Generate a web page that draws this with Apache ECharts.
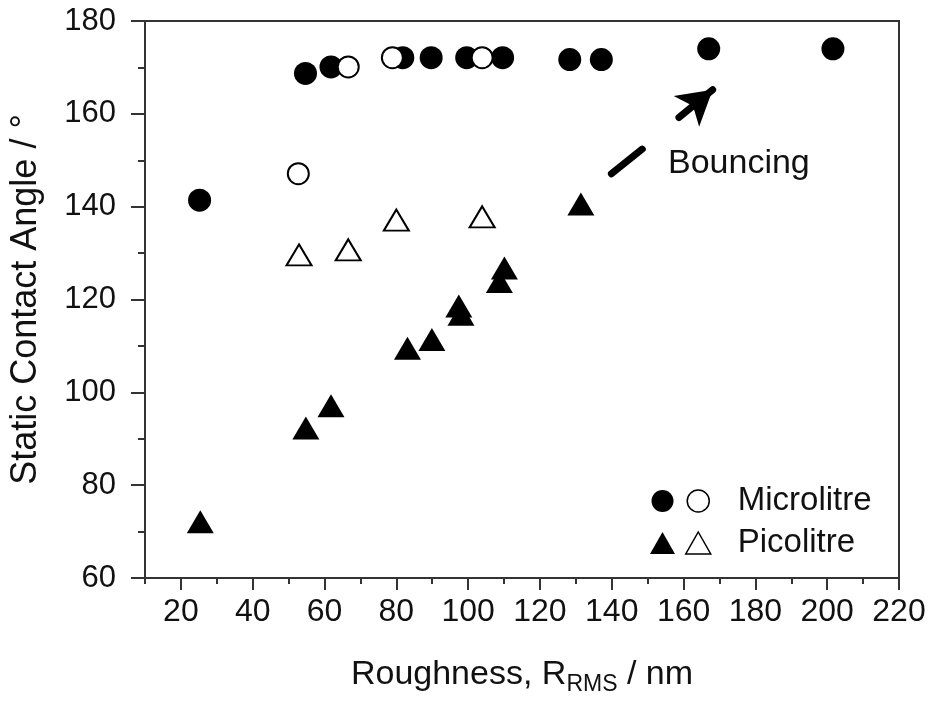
<!DOCTYPE html>
<html>
<head>
<meta charset="utf-8">
<script src="https://cdn.jsdelivr.net/npm/echarts@6/dist/echarts.min.js"></script>
<style>html,body{margin:0;padding:0;background:#fff;}#c{width:928px;height:701px;}</style>
</head>
<body>
<div id="c"></div>
<script>
// ---- data ----
const microFilledX = [25.2, 54.7, 61.8, 81.8, 89.7, 99.6, 109.6, 128.3, 137.1, 167.0, 201.6];
const microFilledY = [141.4, 168.7, 170.1, 172.1, 172.1, 172.1, 172.1, 171.7, 171.7, 174.0, 174.0];
const microOpenX = [52.7, 66.6, 78.9, 103.9];
const microOpenY = [147.1, 170.1, 172.1, 172.1];
const picoFilledX = [25.4, 54.8, 61.8, 83.1, 89.9, 97.4, 98.0, 108.7, 110.1, 131.4];
const picoFilledY = [72.1, 92.3, 97.1, 109.5, 111.4, 118.6, 116.8, 123.9, 126.8, 140.6];
const picoOpenX = [52.9, 66.6, 80.0, 103.9];
const picoOpenY = [129.6, 130.7, 137.1, 137.8];
const xMajorTicks = [20, 40, 60, 80, 100, 120, 140, 160, 180, 200, 220];
const xMinorTicks = [10, 30, 50, 70, 90, 110, 130, 150, 170, 190, 210];
// annotation (dash + arrow) in data coordinates
const dashCoords = [[139.9, 147.1], [148.5, 152.4]];
const arrowCoords = [[158.7, 159.2], [168.1, 165.2]];

const zip = (xs, ys) => xs.map((x, i) => [x, ys[i]]);
const FONT = 'Liberation Sans, Arial, sans-serif';

const chart = echarts.init(document.getElementById('c'), null, {renderer: 'canvas'});
const option = {
  animation: false,
  backgroundColor: '#fff',
  grid: {left: 145, right: 29, top: 21, bottom: 123, containLabel: false, outerBoundsMode: 'none',
    show: true, borderColor: '#333', borderWidth: 2, backgroundColor: 'transparent'},
  xAxis: [{
    type: 'value', min: 10, max: 220,
    axisLine: {show: true, lineStyle: {color: '#333', width: 2}},
    axisTick: {show: true, customValues: xMajorTicks, length: 12, lineStyle: {color: '#333', width: 2}},
    axisLabel: {customValues: xMajorTicks, color: '#111', fontFamily: FONT, fontSize: 32, margin: 18},
    splitLine: {show: false},
    name: '{a|Roughness, R}{b|RMS}{a| / nm}',
    nameLocation: 'middle', nameGap: 80,
    nameTextStyle: {
      color: '#111', fontFamily: FONT,
      rich: {
        a: {fontFamily: FONT, fontSize: 34, color: '#111', lineHeight: 38, verticalAlign: 'top'},
        b: {fontFamily: FONT, fontSize: 23, color: '#111', lineHeight: 22, padding: [27, 0, 0, 0], verticalAlign: 'bottom'}
      }
    }
  }, {
    type: 'value', min: 10, max: 220, gridIndex: 0, position: 'bottom',
    axisLine: {show: false},
    axisTick: {show: true, customValues: xMinorTicks, length: 6, lineStyle: {color: '#333', width: 2}},
    axisLabel: {show: false},
    splitLine: {show: false}
  }],
  yAxis: {
    type: 'value', min: 60, max: 180, interval: 20,
    axisLine: {show: true, lineStyle: {color: '#333', width: 2}},
    axisTick: {show: true, length: 14, lineStyle: {color: '#333', width: 2}},
    minorTick: {show: true, splitNumber: 2, length: 7, lineStyle: {color: '#333', width: 2}},
    axisLabel: {color: '#111', fontFamily: FONT, fontSize: 31, margin: 29},
    splitLine: {show: false},
    minorSplitLine: {show: false},
    name: 'Static Contact Angle / °',
    nameLocation: 'middle', nameRotate: 90, nameGap: 101,
    nameTextStyle: {color: '#111', fontFamily: FONT, fontSize: 36}
  },
  legend: [{
    orient: 'vertical', left: 645, top: 485, itemGap: 20,
    itemWidth: 25, itemHeight: 22,
    formatter: () => '',
    textStyle: {fontSize: 33, lineHeight: 22, fontFamily: FONT},
    selectedMode: false,
    data: [
      {name: 'Microlitre', icon: 'circle', itemStyle: {color: '#000', borderWidth: 0}},
      {name: 'Picolitre', icon: 'triangle', itemStyle: {color: '#000', borderWidth: 0}}
    ]
  }, {
    orient: 'vertical', left: 680, top: 479, itemGap: 8,
    itemWidth: 25, itemHeight: 22,
    formatter: (n) => n.trim(),
    textStyle: {fontSize: 33, lineHeight: 34, fontFamily: FONT, color: '#111', padding: [0, 0, 0, 22]},
    selectedMode: false,
    data: [
      {name: 'Microlitre ', icon: 'circle', itemStyle: {color: '#fff', borderColor: '#000', borderWidth: 1.5}},
      {name: 'Picolitre ', icon: 'triangle', itemStyle: {color: '#fff', borderColor: '#000', borderWidth: 1.5}}
    ]
  }],
  series: [
    {
      name: 'Microlitre', type: 'scatter', symbol: 'circle', symbolSize: 23,
      itemStyle: {color: '#000', opacity: 1},
      data: zip(microFilledX, microFilledY), z: 2
    },
    {
      name: 'Picolitre', type: 'scatter', symbol: 'triangle', symbolSize: [27, 23],
      itemStyle: {color: '#000', opacity: 1},
      data: zip(picoFilledX, picoFilledY), z: 2,
      markLine: {
        silent: true, animation: false,
        label: {show: false},
        data: [
          [{coord: dashCoords[0], symbol: 'none'}, {coord: dashCoords[1], symbol: 'none'}],
          [{coord: arrowCoords[0], symbol: 'none'}, {coord: arrowCoords[1], symbol: 'arrow', symbolSize: [30, 34]}]
        ],
        lineStyle: {color: '#000', width: 7, type: 'solid', cap: 'round'},
        emphasis: {disabled: true}
      }
    },
    {
      name: 'Microlitre ', type: 'scatter', symbol: 'circle', symbolSize: 21,
      itemStyle: {color: '#fff', borderColor: '#000', borderWidth: 2, opacity: 1},
      data: zip(microOpenX, microOpenY), z: 3
    },
    {
      name: 'Picolitre ', type: 'scatter', symbol: 'triangle', symbolSize: [25, 21],
      itemStyle: {color: '#fff', borderColor: '#000', borderWidth: 2, opacity: 1},
      data: zip(picoOpenX, picoOpenY), z: 3
    }
  ],
  graphic: [{
    type: 'text', left: 668, top: 147,
    style: {text: 'Bouncing', fontSize: 34, fontFamily: FONT, fill: '#111'}
  }]
};
chart.setOption(option);
</script>
</body>
</html>
